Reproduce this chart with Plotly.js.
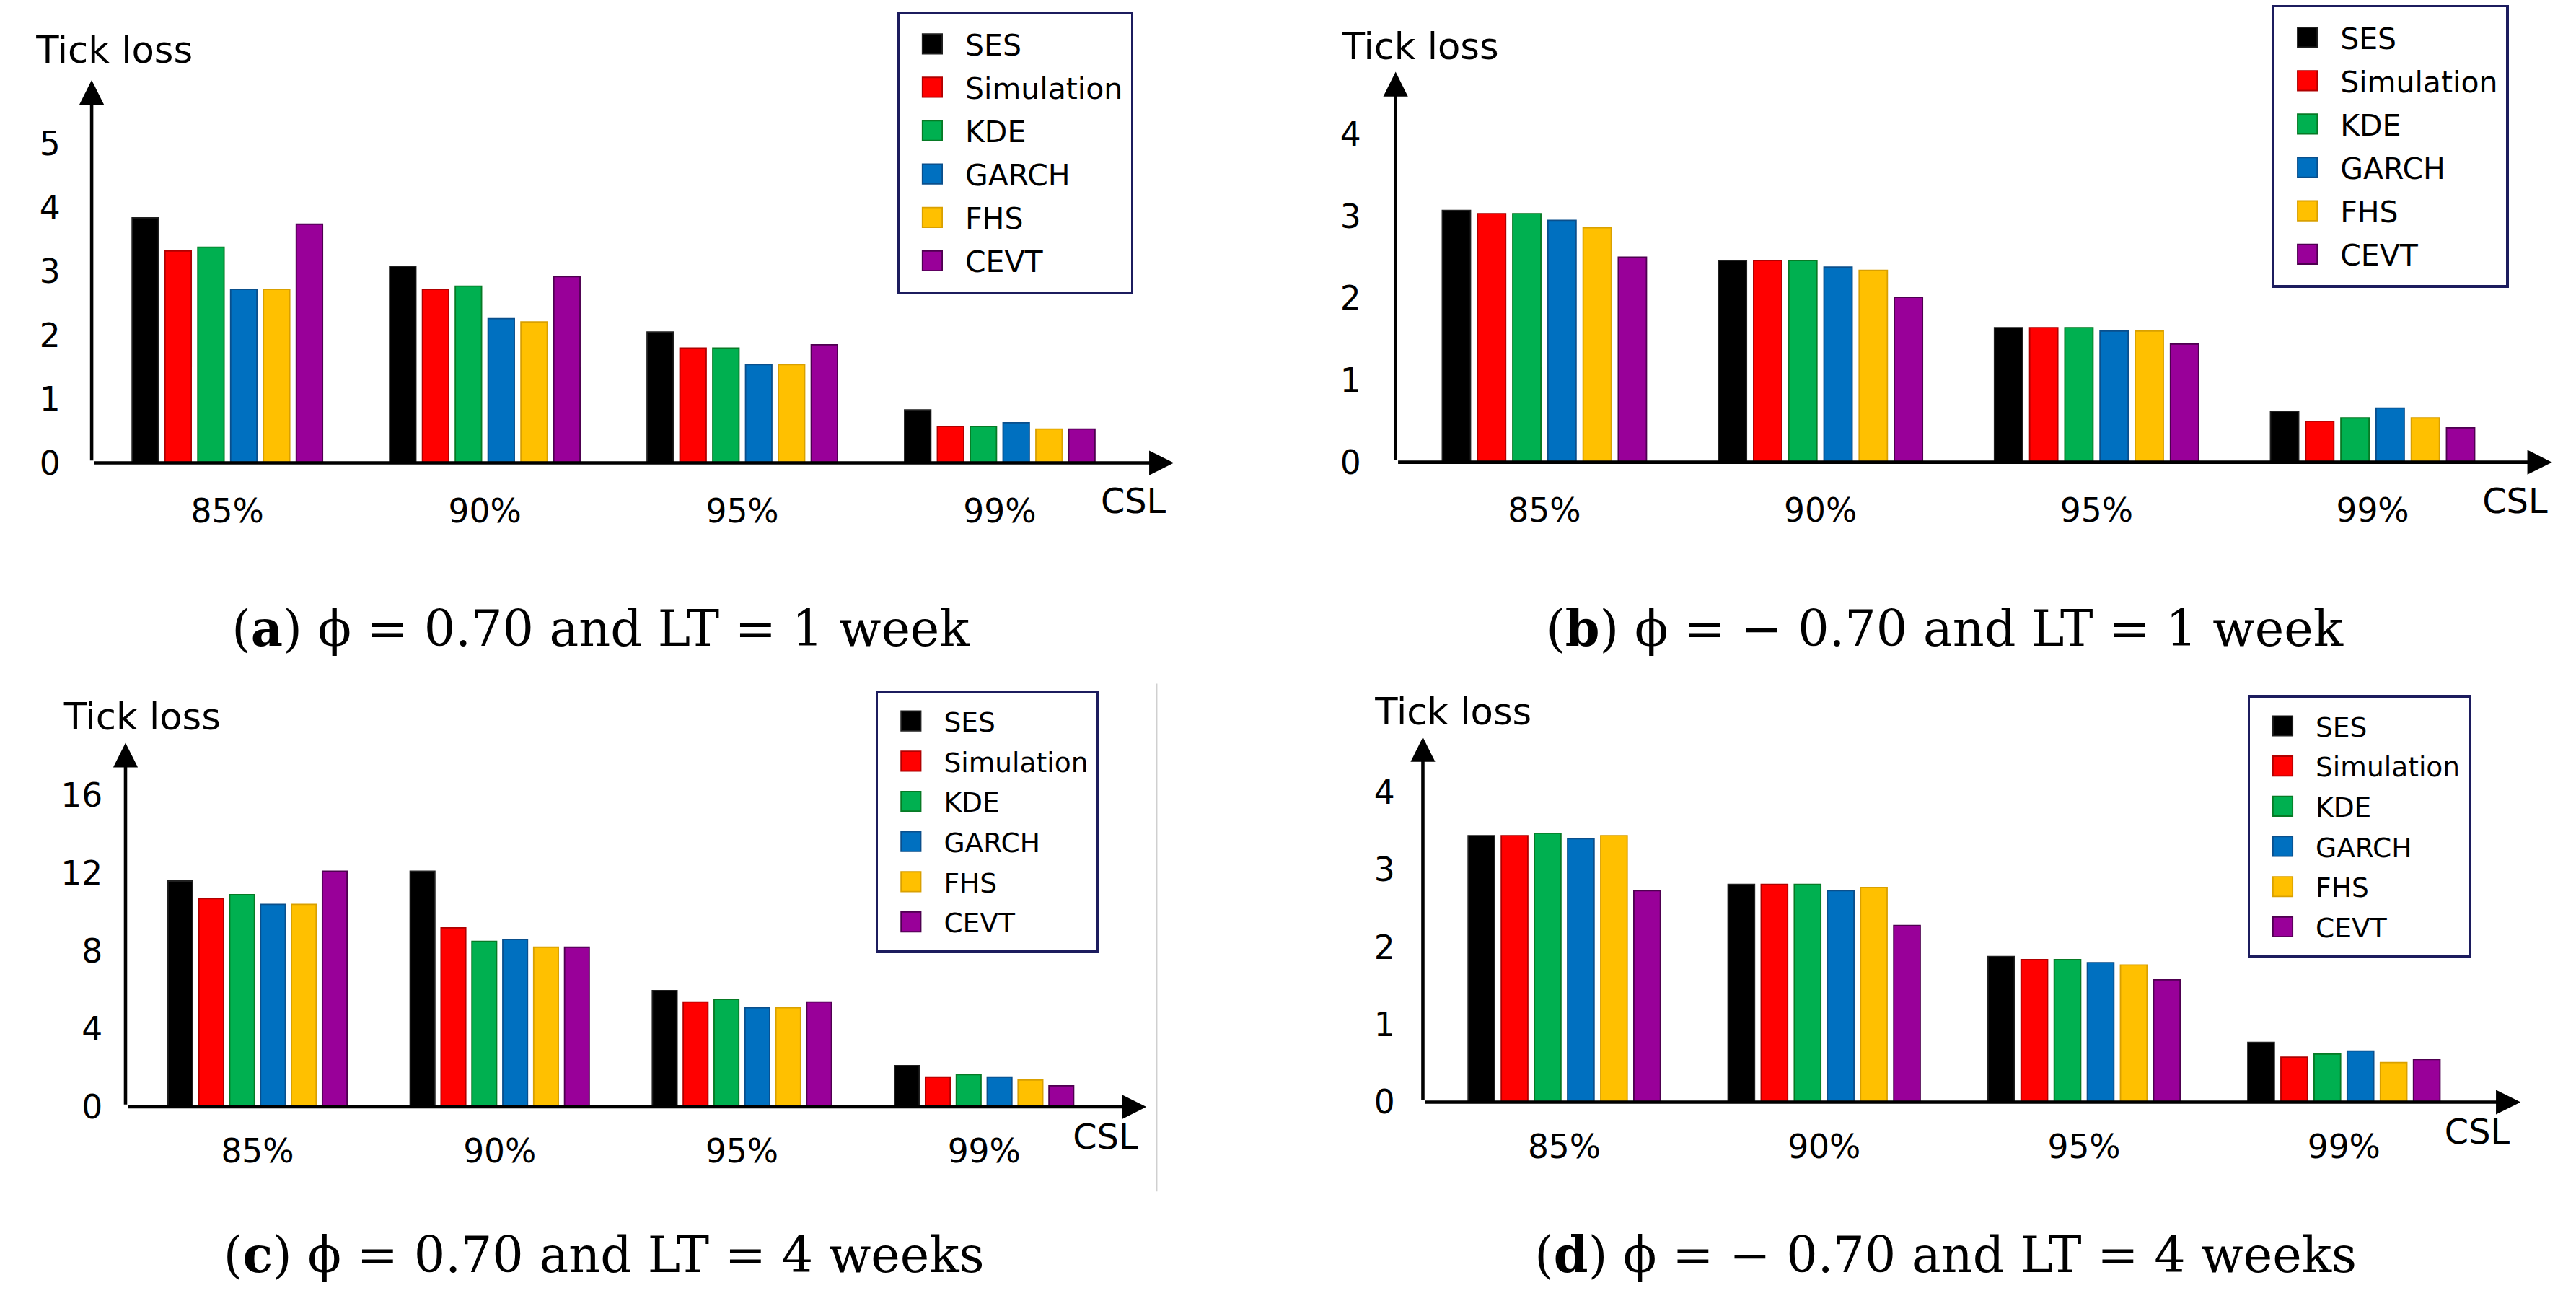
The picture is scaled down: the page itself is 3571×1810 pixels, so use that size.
<!DOCTYPE html>
<html>
<head>
<meta charset="utf-8">
<script src="https://cdn.plot.ly/plotly-3.0.1.min.js"></script>
<style>
html,body{margin:0;padding:0;background:#fff;overflow:hidden;width:3571px;height:1810px;}
#chart{width:1568px;height:795px;transform:scale(2.277423);transform-origin:0 0;}
</style>
</head>
<body>
<div id="chart"></div>
<script>
// ---- data ----
const categories = ['85%', '90%', '95%', '99%'];
const seriesNames = ['SES', 'Simulation', 'KDE', 'GARCH', 'FHS', 'CEVT'];

// (a) phi = 0.70, LT = 1 week
const a_SES = [3.84, 3.08, 2.05, 0.83];
const a_Simulation = [3.32, 2.72, 1.80, 0.57];
const a_KDE = [3.38, 2.77, 1.80, 0.57];
const a_GARCH = [2.72, 2.26, 1.54, 0.63];
const a_FHS = [2.72, 2.21, 1.54, 0.53];
const a_CEVT = [3.74, 2.92, 1.85, 0.53];

// (b) phi = -0.70, LT = 1 week
const b_SES = [3.07, 2.46, 1.64, 0.62];
const b_Simulation = [3.03, 2.46, 1.64, 0.50];
const b_KDE = [3.03, 2.46, 1.64, 0.54];
const b_GARCH = [2.95, 2.38, 1.60, 0.66];
const b_FHS = [2.86, 2.34, 1.60, 0.54];
const b_CEVT = [2.50, 2.01, 1.44, 0.42];

// (c) phi = 0.70, LT = 4 weeks
const c_SES = [11.6, 12.1, 5.97, 2.12];
const c_Simulation = [10.7, 9.2, 5.39, 1.53];
const c_KDE = [10.9, 8.5, 5.52, 1.66];
const c_GARCH = [10.4, 8.6, 5.09, 1.53];
const c_FHS = [10.4, 8.2, 5.09, 1.38];
const c_CEVT = [12.1, 8.2, 5.39, 1.08];

// (d) phi = -0.70, LT = 4 weeks
const d_SES = [3.44, 2.81, 1.88, 0.77];
const d_Simulation = [3.44, 2.81, 1.84, 0.58];
const d_KDE = [3.47, 2.81, 1.84, 0.62];
const d_GARCH = [3.40, 2.73, 1.80, 0.66];
const d_FHS = [3.44, 2.77, 1.77, 0.51];
const d_CEVT = [2.73, 2.28, 1.58, 0.55];

const yTicksA = [0, 1, 2, 3, 4, 5];
const yTicksB = [0, 1, 2, 3, 4];
const yTicksC = [0, 4, 8, 12, 16];
const yTicksD = [0, 1, 2, 3, 4];

const yAxisLabel = 'Tick loss';
const xAxisLabel = 'CSL';
const captionA = '(<b>a</b>) \u03D5 = 0.70 and LT = 1 week';
const captionB = '(<b>b</b>) \u03D5 = \u2212 0.70 and LT = 1 week';
const captionC = '(<b>c</b>) \u03D5 = 0.70 and LT = 4 weeks';
const captionD = '(<b>d</b>) \u03D5 = \u2212 0.70 and LT = 4 weeks';

// ---- styles ----
const seriesColors = ['#000000', '#FF0000', '#00B050', '#0070C0', '#FFC000', '#990099'];
const seriesEdges  = ['#202020', '#B00000', '#077A25', '#0A4F8C', '#D9A000', '#4E0050'];
const SANS = 'DejaVu Sans, Verdana, sans-serif';
const SERIF = 'DejaVu Serif, Liberation Serif, serif';
const W = 1568, H = 795;
const px = v => v / W;
const py = v => 1 - v / H;

const panels = [
  { suf: '', leg: 'legend', data: [a_SES, a_Simulation, a_KDE, a_GARCH, a_FHS, a_CEVT], yticks: yTicksA, caption: captionA,
    xd: [55.8, 714.5], yd: [281.7, 48.7], ymax: 6.0, xr: [-0.527, 3.676],
    title: [19, 30], csl: [690, 305], legPos: [546, 7], legFont: 18, capPos: [366, 382], xStand: 15, yStand: 18 },
  { suf: '2', leg: 'legend2', data: [b_SES, b_Simulation, b_KDE, b_GARCH, b_FHS, b_CEVT], yticks: yTicksB, caption: captionB,
    xd: [849.5, 1553.4], yd: [281.3, 43.7], ymax: 4.76, xr: [-0.539, 3.65],
    title: [814.3, 28], csl: [1531, 305], legPos: [1383, 3], legFont: 18, capPos: [1184, 382], xStand: 15, yStand: 20 },
  { suf: '3', leg: 'legend3', data: [c_SES, c_Simulation, c_KDE, c_GARCH, c_FHS, c_CEVT], yticks: yTicksC, caption: captionC,
    xd: [76.4, 697.8], yd: [673.6, 452], ymax: 18.7, xr: [-0.545, 3.67],
    title: [35.8, 436], csl: [673, 692.3], legPos: [533, 420], legFont: 16.5, capPos: [367, 763], xStand: 13, yStand: 13 },
  { suf: '4', leg: 'legend4', data: [d_SES, d_Simulation, d_KDE, d_GARCH, d_FHS, d_CEVT], yticks: yTicksD, caption: captionD,
    xd: [866.1, 1534.3], yd: [670.7, 448.6], ymax: 4.71, xr: [-0.544, 3.68],
    title: [834.4, 433], csl: [1508, 689.3], legPos: [1368, 423], legFont: 16.5, capPos: [1184, 763], xStand: 13, yStand: 16 }
];

const traces = [];
const layout = {
  width: W, height: H,
  margin: { l: 0, r: 0, t: 0, b: 0, pad: 0 },
  paper_bgcolor: '#ffffff', plot_bgcolor: 'rgba(0,0,0,0)',
  barmode: 'group', bargap: 0.235, bargroupgap: 0.2,
  showlegend: true,
  font: { family: SANS, color: '#000' },
  annotations: [],
  shapes: [
    { type: 'line', xref: 'paper', yref: 'paper', x0: px(704), x1: px(704), y0: py(416), y1: py(725),
      line: { color: '#cfcfcf', width: 1 } }
  ]
};

panels.forEach(p => {
  const xa = 'x' + p.suf, ya = 'y' + p.suf;
  seriesNames.forEach((name, k) => {
    traces.push({
      type: 'bar', name: name, x: categories, y: p.data[k],
      xaxis: xa, yaxis: ya, legend: p.leg, showlegend: true,
      marker: { color: seriesColors[k], line: { width: 0.8, color: seriesEdges[k] } },
      hoverinfo: 'skip'
    });
  });
  layout['xaxis' + p.suf] = {
    domain: [px(p.xd[0]), px(p.xd[1])], anchor: ya, type: 'category',
    range: p.xr, showgrid: false, zeroline: false, showline: false, ticks: '',
    ticklabelstandoff: p.xStand, tickfont: { family: SANS, size: 20, color: '#000' },
    fixedrange: true
  };
  layout['yaxis' + p.suf] = {
    domain: [py(p.yd[0]), py(p.yd[1])], anchor: xa,
    range: [0, p.ymax], showgrid: false, zeroline: false, showline: false, ticks: '',
    tickmode: 'array', tickvals: p.yticks, ticktext: p.yticks.map(String),
    ticklabelstandoff: p.yStand, tickfont: { family: SANS, size: 20, color: '#000' },
    fixedrange: true
  };
  layout[p.leg] = {
    x: px(p.legPos[0]), y: py(p.legPos[1]), xanchor: 'left', yanchor: 'top',
    xref: 'paper', yref: 'paper',
    bgcolor: '#ffffff', bordercolor: '#1c1c5e', borderwidth: 1.5,
    font: { family: SANS, size: p.legFont, color: '#000' },
    itemwidth: 30, tracegroupgap: 0, traceorder: 'normal', orientation: 'v'
  };
  // axis arrows
  layout.annotations.push({
    xref: xa, yref: ya, axref: xa, ayref: ya,
    x: p.xr[0], y: p.ymax, ax: p.xr[0], ay: 0, text: '',
    showarrow: true, arrowhead: 2, arrowsize: 1.5, arrowwidth: 2, arrowcolor: '#000', standoff: 0
  });
  layout.annotations.push({
    xref: xa, yref: ya, axref: xa, ayref: ya,
    x: p.xr[1], y: 0, ax: p.xr[0], ay: 0, text: '',
    showarrow: true, arrowhead: 2, arrowsize: 1.5, arrowwidth: 2, arrowcolor: '#000', standoff: 0
  });
  // axis labels
  layout.annotations.push({
    xref: 'paper', yref: 'paper', x: px(p.title[0]), y: py(p.title[1]),
    xanchor: 'left', yanchor: 'middle', text: yAxisLabel, showarrow: false,
    font: { family: SANS, size: 22.5, color: '#000' }
  });
  layout.annotations.push({
    xref: 'paper', yref: 'paper', x: px(p.csl[0]), y: py(p.csl[1]),
    xanchor: 'center', yanchor: 'middle', text: xAxisLabel, showarrow: false,
    font: { family: SANS, size: 21, color: '#000' }
  });
  // caption
  layout.annotations.push({
    xref: 'paper', yref: 'paper', x: px(p.capPos[0]), y: py(p.capPos[1]),
    xanchor: 'center', yanchor: 'middle', text: p.caption, showarrow: false,
    font: { family: SERIF, size: 30, color: '#000' }
  });
});

Plotly.newPlot('chart', traces, layout, { staticPlot: true, displayModeBar: false });
</script>
</body>
</html>
